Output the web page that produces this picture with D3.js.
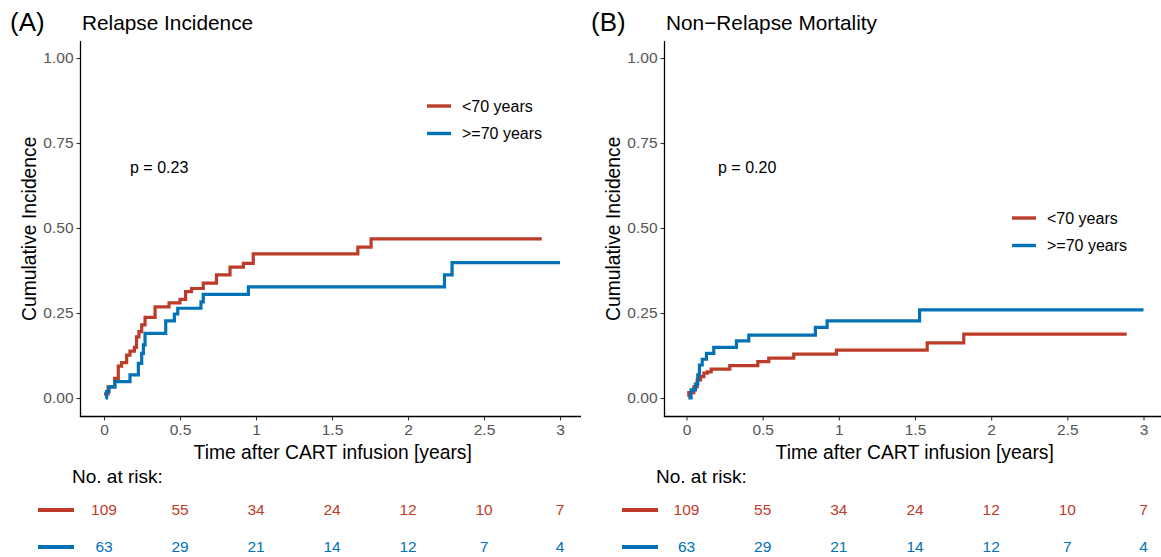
<!DOCTYPE html>
<html>
<head>
<meta charset="utf-8">
<script src="https://cdn.jsdelivr.net/npm/d3@7"></script>
<style>
  html, body { margin: 0; padding: 0; background: #fff; }
  svg { display: block; font-family: "Liberation Sans", Arial, Helvetica, sans-serif; }
</style>
</head>
<body>
<svg id="chart" width="1161" height="557"></svg>
<script>
// ---------------- data ----------------
const groups = ["<70 years", ">=70 years"];
const colors = ["#BC3C29", "#0072B5"];

const xTicks = [0, 0.5, 1, 1.5, 2, 2.5, 3];
const xTickLabels = ["0", "0.5", "1", "1.5", "2", "2.5", "3"];
const yTicks = [0, 0.25, 0.5, 0.75, 1];
const yTickLabels = ["0.00", "0.25", "0.50", "0.75", "1.00"];

// Panel A: Relapse incidence
const relYoungTime = [0, 0.027, 0.07, 0.094, 0.116, 0.149, 0.171, 0.2, 0.214, 0.23, 0.248, 0.27, 0.336, 0.428, 0.5, 0.537, 0.576, 0.653, 0.74, 0.829, 0.917, 0.982, 1.67, 1.757, 2.88];
const relYoungCI   = [0.012, 0.033, 0.058, 0.094, 0.104, 0.126, 0.138, 0.149, 0.18, 0.195, 0.215, 0.237, 0.268, 0.28, 0.29, 0.313, 0.322, 0.338, 0.362, 0.385, 0.396, 0.424, 0.444, 0.468, 0.468];
const relOldTime = [0.01, 0.017, 0.033, 0.072, 0.171, 0.226, 0.248, 0.259, 0.27, 0.406, 0.463, 0.485, 0.638, 0.653, 0.95, 2.24, 2.29, 3.0];
const relOldCI   = [0.0, 0.019, 0.033, 0.048, 0.068, 0.102, 0.131, 0.156, 0.19, 0.227, 0.247, 0.264, 0.283, 0.305, 0.327, 0.362, 0.398, 0.398];

// Panel B: Non-relapse mortality
const nrmYoungTime = [0.005, 0.015, 0.048, 0.07, 0.092, 0.114, 0.136, 0.162, 0.284, 0.468, 0.54, 0.704, 0.984, 1.58, 1.82, 2.89];
const nrmYoungCI   = [0.008, 0.016, 0.033, 0.053, 0.063, 0.073, 0.077, 0.085, 0.095, 0.107, 0.117, 0.129, 0.141, 0.162, 0.188, 0.188];
const nrmOldTime = [0.012, 0.03, 0.059, 0.074, 0.085, 0.103, 0.131, 0.179, 0.328, 0.409, 0.846, 0.923, 1.53, 3.0];
const nrmOldCI   = [0.0, 0.024, 0.041, 0.068, 0.097, 0.114, 0.131, 0.149, 0.168, 0.185, 0.208, 0.227, 0.259, 0.259];

// Numbers at risk
const riskTimes = [0, 0.5, 1, 1.5, 2, 2.5, 3];
const riskYoung = [109, 55, 34, 24, 12, 10, 7];
const riskOld   = [63, 29, 21, 14, 12, 7, 4];

const panels = [
  { tag: "(A)", title: "Relapse Incidence", pval: "p = 0.23",
    series: [[relYoungTime, relYoungCI], [relOldTime, relOldCI]],
    left: 80.5, right: 581, x0: 104, x3: 560, tagX: 10, legX: 427, legY: 106, pX: 130 },
  { tag: "(B)", title: "Non\u2212Relapse Mortality", pval: "p = 0.20",
    series: [[nrmYoungTime, nrmYoungCI], [nrmOldTime, nrmOldCI]],
    left: 664.5, right: 1161, x0: 686.5, x3: 1143.5, tagX: 591, legX: 1012, legY: 218, pX: 718 }
];

const svg = d3.select("#chart");
const plotTop = 41, plotBottom = 416.5;

panels.forEach(p => {
  const g = svg.append("g");
  const x = d3.scaleLinear().domain([0, 3]).range([p.x0, p.x3]);
  const y = d3.scaleLinear().domain([0, 1]).range([398, 58]);

  // titles
  g.append("text").attr("x", p.tagX).attr("y", 31).attr("font-size", 26).attr("fill", "#000").text(p.tag);
  g.append("text").attr("x", p.left + 1.5).attr("y", 30).attr("font-size", 20.8).attr("fill", "#000").text(p.title);

  // axes
  const yAxis = d3.axisLeft(y).tickValues(yTicks).tickFormat((d, i) => yTickLabels[i]).tickSize(4).tickPadding(3);
  const ya = g.append("g").attr("transform", `translate(${p.left},0)`).call(yAxis);
  ya.select(".domain").remove();
  ya.selectAll(".tick line").attr("stroke", "#333").attr("stroke-width", 1.1);
  ya.selectAll(".tick text").attr("fill", "#555").attr("font-size", 15.5).attr("font-family", null);

  const xAxis = d3.axisBottom(x).tickValues(xTicks).tickFormat((d, i) => xTickLabels[i]).tickSize(4).tickPadding(3);
  const xa = g.append("g").attr("transform", `translate(0,${plotBottom})`).call(xAxis);
  xa.select(".domain").remove();
  xa.selectAll(".tick line").attr("stroke", "#333").attr("stroke-width", 1.1);
  xa.selectAll(".tick text").attr("fill", "#555").attr("font-size", 15.5).attr("font-family", null);

  g.append("line").attr("x1", p.left).attr("x2", p.left).attr("y1", plotTop).attr("y2", plotBottom + 0.6)
    .attr("stroke", "#000").attr("stroke-width", 1.3);
  g.append("line").attr("x1", p.left - 0.6).attr("x2", p.right).attr("y1", plotBottom).attr("y2", plotBottom)
    .attr("stroke", "#000").attr("stroke-width", 1.3);

  // axis titles
  g.append("text").attr("x", (p.left + p.right) / 2 + 2).attr("y", 459).attr("text-anchor", "middle")
    .attr("font-size", 19.3).attr("fill", "#000").text("Time after CART infusion [years]");
  g.append("text").attr("transform", `translate(${p.left - 45},${(plotTop + plotBottom) / 2}) rotate(-90)`)
    .attr("text-anchor", "middle").attr("font-size", 19.3).attr("fill", "#000").text("Cumulative Incidence");

  // curves
  const line = d3.line().x(d => x(d[0])).y(d => y(d[1])).curve(d3.curveStepAfter);
  p.series.forEach((s, i) => {
    const pts = s[0].map((t, k) => [t, s[1][k]]);
    g.append("path").datum(pts).attr("d", line).attr("fill", "none")
      .attr("stroke", colors[i]).attr("stroke-width", 3.2);
  });

  // p-value
  g.append("text").attr("x", p.pX).attr("y", 173).attr("font-size", 16).attr("fill", "#000").text(p.pval);

  // legend
  groups.forEach((name, i) => {
    const ly = p.legY + i * 27.5;
    g.append("line").attr("x1", p.legX).attr("x2", p.legX + 24).attr("y1", ly).attr("y2", ly)
      .attr("stroke", colors[i]).attr("stroke-width", 3.4);
    g.append("text").attr("x", p.legX + 35).attr("y", ly).attr("dy", "0.35em")
      .attr("font-size", 16).attr("fill", "#000").text(name);
  });

  // numbers at risk
  g.append("text").attr("x", p.left - 8.5).attr("y", 483).attr("font-size", 19).attr("fill", "#000").text("No. at risk:");
  const rows = [riskYoung, riskOld];
  const rowY = [510, 547];
  rows.forEach((vals, i) => {
    g.append("line").attr("x1", p.left - 42.5).attr("x2", p.left - 6.5).attr("y1", rowY[i]).attr("y2", rowY[i])
      .attr("stroke", colors[i]).attr("stroke-width", 4);
    g.selectAll(null).data(vals).enter().append("text")
      .attr("x", (d, k) => x(riskTimes[k])).attr("y", rowY[i]).attr("dy", "0.35em")
      .attr("text-anchor", "middle").attr("font-size", 15.5).attr("fill", colors[i]).text(d => d);
  });
});
</script>
</body>
</html>
